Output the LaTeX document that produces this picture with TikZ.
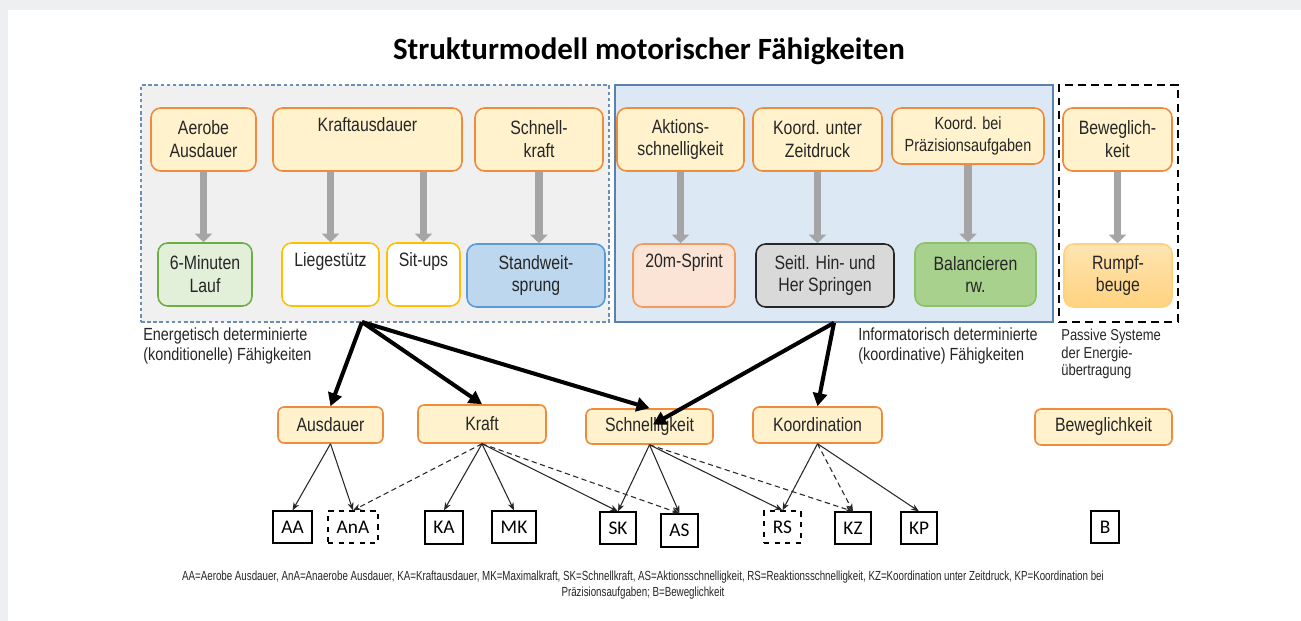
\documentclass[tikz,border=0pt]{standalone}
\usepackage{fontspec}
\setmainfont{Liberation Sans}[FakeStretch=0.82]
\newfontfamily\calibri{Carlito}
\newfontfamily\legendfont{Liberation Sans}[FakeStretch=0.74]
\usetikzlibrary{arrows.meta}

\definecolor{pagegray}{HTML}{EEEFF1}
\definecolor{textgray}{HTML}{262626}
\definecolor{boxorange}{HTML}{F08A3C}
\definecolor{boxfill}{HTML}{FFF2CC}
\definecolor{panelgray}{HTML}{F0F0F0}
\definecolor{dashblue}{HTML}{6A8EB6}
\definecolor{panelblue}{HTML}{DCE8F4}
\definecolor{solidblue}{HTML}{5B82AD}
\definecolor{laufgreen}{HTML}{70AD47}
\definecolor{lauffill}{HTML}{E2EFD9}
\definecolor{liegeyellow}{HTML}{FFC000}
\definecolor{sprungblue}{HTML}{5B9BD5}
\definecolor{sprungfill}{HTML}{BDD7EE}
\definecolor{sprintorange}{HTML}{F19A5B}
\definecolor{sprintfill}{HTML}{FBE4D5}
\definecolor{seitlgray}{HTML}{D9D9D9}
\definecolor{balgreen}{HTML}{8CC06A}
\definecolor{balfill}{HTML}{A9D18E}
\definecolor{rumpfline}{HTML}{FFD27F}
\definecolor{arrowgray}{HTML}{A5A5A5}

\tikzset{
  sz/.style 2 args={minimum width=#1*0.02cm, minimum height=#2*0.02cm},
  box/.style={rounded corners=5.5pt, draw=boxorange, fill=boxfill, line width=0.9pt,
    align=center, text=textgray, inner sep=1pt},
  midbox/.style={box, rounded corners=3.5pt},
  abbr/.style={draw=black, line width=0.7pt, fill=white, text=black, inner sep=0pt,
    font=\calibri\fontsize{11}{13}\selectfont},
  lbl/.style={align=left, anchor=north west, inner sep=0pt, text=textgray,
    font=\fontsize{10}{11.5}\selectfont},
  graystep/.style={draw=arrowgray, line width=4.5pt, -{Triangle[width=0.34cm,length=0.17cm]}},
  fork/.style={line width=2.3pt, -{Triangle[width=0.28cm,length=0.26cm]}},
  sub/.style={line width=0.6pt, textgray, -{Stealth[length=4.5pt,width=3.5pt]}},
  subdash/.style={sub, dash pattern=on 3pt off 2pt}
}

\begin{document}
\begin{tikzpicture}[x=0.02cm,y=-0.02cm, font=\fontsize{11}{13}\selectfont]
\fill[pagegray] (0,0) rectangle (1301,621);
\fill[white] (8,10) rectangle (1301,621);
\useasboundingbox (0,0) rectangle (1301,621);

\node[font=\calibri\bfseries\fontsize{17.6}{20}\selectfont, text=black] (title) at (649,51) {Strukturmodell motorischer Fähigkeiten};

%%% the three panels
\node[draw=dashblue, fill=panelgray, dash pattern=on 2pt off 1.5pt, line width=0.8pt, inner sep=0pt, sz={468}{237}] (energ) at (375,203.5) {};
\node[draw=solidblue, fill=panelblue, line width=0.9pt, inner sep=0pt, sz={438}{237}] (inform) at (834,203.5) {};
\node[draw=black, dash pattern=on 4.5pt off 3pt, line width=1.6pt, inner sep=0pt, sz={119}{237}] (passiv) at (1118.5,203.5) {};

%%% abilities
\node[box, sz={105}{63}] (aerob) at (203.5,139.5) {Aerobe\\Ausdauer};
\node[box, sz={189}{63}] (kraftaus) at (367.5,139.5) {Kraftausdauer\\\strut};
\node[box, sz={128}{63}] (schnkr) at (539,139.5) {Schnell-\\kraft};
\node[box, sz={127}{63}] (aktion) at (680.5,139.5) {Aktions-\\schnelligkeit};
\node[box, sz={129}{63}] (kzeit) at (817.5,139.5) {Koord. unter\\Zeitdruck};
\node[box, sz={152}{56}, font=\fontsize{10}{12}\selectfont] (kpraez) at (968,136) {Koord. bei\\Präzisionsaufgaben};
\node[box, sz={109}{63}] (bewegl) at (1117.5,139.5) {Beweglich-\\keit};

%%% tests
\node[box, draw=laufgreen, fill=lauffill, sz={94}{63}] (lauf) at (205,274.5) {6-Minuten\\Lauf};
\node[box, draw=liegeyellow, fill=white, sz={97}{63}] (liege) at (330.5,274.5) {Liegestütz\\\strut};
\node[box, draw=liegeyellow, fill=white, sz={73}{63}] (situps) at (423.5,274.5) {Sit-ups\\\strut};
\node[box, draw=sprungblue, fill=sprungfill, sz={138}{63}] (standw) at (536,275.5) {Standweit-\\sprung};
\node[box, draw=sprintorange, fill=sprintfill, sz={102}{63}] (sprint) at (684,275.5) {20m-Sprint\\\strut};
\node[box, draw=textgray, fill=seitlgray, sz={138}{63}] (seitl) at (825,275.5) {Seitl. Hin- und\\Her Springen};
\node[box, draw=balgreen, fill=balfill, sz={121}{63}] (balanc) at (975.5,274.5) {Balancieren\\rw.};
\node[box, draw=rumpfline, top color=rumpfline!60!white, bottom color=rumpfline, sz={108}{63}] (rumpf) at (1118,275.5) {Rumpf-\\beuge};

\draw[graystep] (aerob.south) -- (aerob.south |- lauf.north);
\draw[graystep] (kraftaus.south -| liege.north) -- (liege.north);
\draw[graystep] (kraftaus.south -| situps.north) -- (situps.north);
\draw[graystep] (schnkr.south) -- (schnkr.south |- standw.north);
\draw[graystep] (aktion.south) -- (aktion.south |- sprint.north);
\draw[graystep] (kzeit.south) -- (kzeit.south |- seitl.north);
\draw[graystep] (kpraez.south) -- (kpraez.south |- balanc.north);
\draw[graystep] (bewegl.south) -- (bewegl.south |- rumpf.north);

\node[lbl] (energlbl) at (143,327) {Energetisch determinierte\\(konditionelle) Fähigkeiten};
\node[lbl] (informlbl) at (858,327) {Informatorisch determinierte\\(koordinative) Fähigkeiten};
\node[lbl, font=\fontsize{9}{10}\selectfont] (passivlbl) at (1061,329) {Passive Systeme\\der Energie-\\übertragung};

%%% main abilities
\node[midbox, sz={105}{36}] (ausd) at (330.5,425) {Ausdauer};
\node[midbox, sz={128}{38}] (kraft) at (482,424) {Kraft};
\node[midbox, sz={127}{35}] (schnell) at (649.5,426.5) {Schnelligkeit};
\node[midbox, sz={129}{36}] (koord) at (817.5,425) {Koordination};
\node[midbox, sz={137}{36}] (bewmid) at (1103.5,427) {Beweglichkeit};

%%% abbreviations
\node[abbr, sz={39}{32}] (aa) at (292.5,527) {AA};
\node[abbr, dashed, sz={50}{32}] (ana) at (353,527) {AnA};
\node[abbr, sz={38}{33}] (ka) at (444,527.5) {KA};
\node[abbr, sz={44}{32}] (mk) at (514,527) {MK};
\node[abbr, sz={36}{32}] (sk) at (618,528) {SK};
\node[abbr, sz={37}{33}] (as) at (679.5,530.5) {AS};
\node[abbr, dashed, sz={37}{32}] (rs) at (782.5,527) {RS};
\node[abbr, sz={36}{32}] (kz) at (853,528) {KZ};
\node[abbr, sz={36}{32}] (kp) at (919,528) {KP};
\node[abbr, sz={28}{32}] (b) at (1105,527) {B};

\foreach \t in {aa,ana}
\draw[sub] (ausd.south) -- (\t.north);
\foreach \t in {ka,mk,sk}
\draw[sub] (kraft.south) -- (\t.north);
\foreach \t in {ana,as}
\draw[subdash] (kraft.south) -- (\t.north);
\foreach \t in {sk,as,rs}
\draw[sub] (schnell.south) -- (\t.north);
\draw[subdash] (schnell.south) -- (kz.north);
\foreach \t in {rs,kp}
\draw[sub] (koord.south) -- (\t.north);
\draw[subdash] (koord.south) -- (kz.north);

%%% thick arrows out of the panels
\coordinate (efork) at (362,322);
\foreach \t in {ausd,kraft,schnell}
\draw[fork] (efork) -- (\t.north);
\draw[fork] (inform.south) -- (koord.north);
\draw[fork, shorten >=0.08cm] (inform.south) -- (schnell.center);

\node[font=\legendfont\fontsize{7.5}{9}\selectfont, align=center, text=textgray] (legend) at (643,585) {AA=Aerobe Ausdauer, AnA=Anaerobe Ausdauer, KA=Kraftausdauer, MK=Maximalkraft, SK=Schnellkraft, AS=Aktionsschnelligkeit, RS=Reaktionsschnelligkeit, KZ=Koordination unter Zeitdruck, KP=Koordination bei\\Präzisionsaufgaben; B=Beweglichkeit};
\end{tikzpicture}
\end{document}
